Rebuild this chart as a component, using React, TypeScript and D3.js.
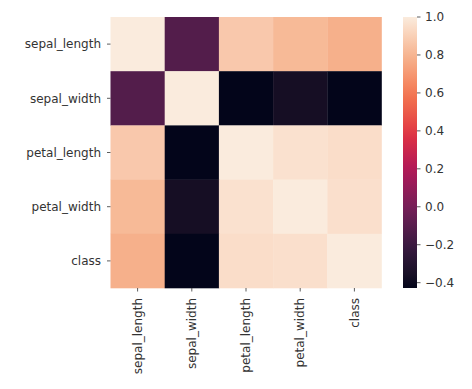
import * as d3 from "d3";

const labels = ["sepal_length", "sepal_width", "petal_length", "petal_width", "class"];

// correlation matrix rows
const rowSepalLength = [1.0, -0.118, 0.872, 0.818, 0.783];
const rowSepalWidth = [-0.118, 1.0, -0.428, -0.366, -0.427];
const rowPetalLength = [0.872, -0.428, 1.0, 0.963, 0.949];
const rowPetalWidth = [0.818, -0.366, 0.963, 1.0, 0.957];
const rowClass = [0.783, -0.427, 0.949, 0.957, 1.0];
const matrix = [rowSepalLength, rowSepalWidth, rowPetalLength, rowPetalWidth, rowClass];

const cbarTicks = [-0.4, -0.2, 0.0, 0.2, 0.4, 0.6, 0.8, 1.0];

// rocket colormap stops
const rocketStops = ["#03051a", "#35193e", "#701f57", "#ad1759", "#e13342", "#f37651", "#f6b48f", "#faebdd"];
const rocket = d3.scaleLinear<string>()
  .domain(rocketStops.map((_, i) => i === 0 ? 0 : i === rocketStops.length - 1 ? 1 : i / 7))
  .range(rocketStops)
  .interpolate(d3.interpolateLab)
  .clamp(true);

const W = 472, H = 389;
const left = 110.5, top = 17, size = 271;
const cbX = 403, cbW = 14;
const font = "DejaVu Sans, sans-serif";
const ink = "#333";

export default function App() {
  const vmin = d3.min(matrix.flat())!;
  const vmax = d3.max(matrix.flat())!;
  const x = d3.scaleBand<string>().domain(labels).range([left, left + size]);
  const y = d3.scaleBand<string>().domain(labels).range([top, top + size]);
  const norm = d3.scaleLinear().domain([vmin, vmax]).range([0, 1]);
  const cbY = d3.scaleLinear().domain([vmin, vmax]).range([top + size, top]);
  const fmt = (v: number) => d3.format(".1f")(v).replace("-", "\u2212");
  const gradStops = d3.range(0, 1.0001, 0.05);

  return (
    <svg width={W} height={H} style={{ position: "absolute", left: 0, top: 0 }}>
      <defs>
        <linearGradient id="cb" x1="0" y1="1" x2="0" y2="0">
          {gradStops.map((t) => (
            <stop key={t} offset={t} stopColor={rocket(t)} />
          ))}
        </linearGradient>
      </defs>
      <rect width={W} height={H} fill="#fff" />
      {matrix.map((row, i) =>
        row.map((v, j) => (
          <rect key={`${i}-${j}`} x={x(labels[j])} y={y(labels[i])}
            width={x.bandwidth() + 0.3} height={y.bandwidth() + 0.3}
            fill={rocket(norm(v))} />
        ))
      )}
      {labels.map((l) => {
        const cy = y(l)! + y.bandwidth() / 2;
        return (
          <g key={"y" + l}>
            <line x1={left - 3.5} x2={left} y1={cy} y2={cy} stroke={ink} strokeWidth={0.8} />
            <text x={left - 9.5} y={cy} dy="0.35em" textAnchor="end" fontFamily={font} fontSize={12} fill={ink}>{l}</text>
          </g>
        );
      })}
      {labels.map((l) => {
        const cx = x(l)! + x.bandwidth() / 2;
        const by = top + size;
        return (
          <g key={"x" + l}>
            <line x1={cx} x2={cx} y1={by} y2={by + 3.5} stroke={ink} strokeWidth={0.8} />
            <text transform={`translate(${cx},${by + 10}) rotate(-90)`} dy="0.35em" textAnchor="end"
              fontFamily={font} fontSize={12} fill={ink}>{l}</text>
          </g>
        );
      })}
      <rect x={cbX} y={top} width={cbW} height={size} fill="url(#cb)" />
      {cbarTicks.map((t) => (
        <g key={t}>
          <line x1={cbX + cbW} x2={cbX + cbW + 3.5} y1={cbY(t)} y2={cbY(t)} stroke={ink} strokeWidth={0.8} />
          <text x={cbX + cbW + 8} y={cbY(t)} dy="0.35em" fontFamily={font} fontSize={12} fill={ink}>{fmt(t)}</text>
        </g>
      ))}
    </svg>
  );
}
